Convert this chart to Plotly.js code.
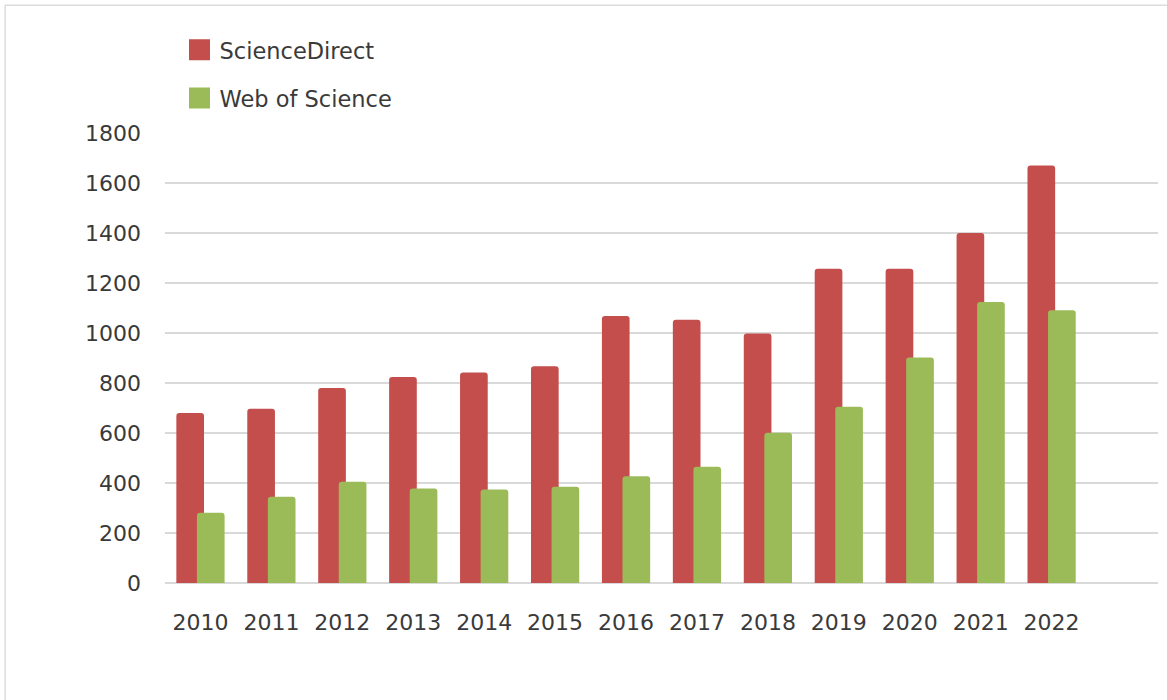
<!DOCTYPE html>
<html>
<head>
<meta charset="utf-8">
<script src="https://cdn.plot.ly/plotly-3.0.1.min.js"></script>
<style>html,body{margin:0;padding:0;background:#fff;}#chart{width:1167px;height:700px;}</style>
</head>
<body>
<div id="chart"></div>
<script>
const years = ['2010','2011','2012','2013','2014','2015','2016','2017','2018','2019','2020','2021','2022'];
const scienceDirect = [680, 697, 780, 824, 842, 867, 1068, 1053, 998, 1257, 1257, 1400, 1670];
const webOfScience = [281, 345, 405, 378, 374, 385, 427, 465, 601, 705, 902, 1124, 1091];
const yTicks = [0, 200, 400, 600, 800, 1000, 1200, 1400, 1600, 1800];
const seriesNames = ['ScienceDirect', 'Web of Science'];
const colors = ['#c44e4c', '#9bbb59'];

const traces = [
  {type:'bar', x: years, y: scienceDirect, name: seriesNames[0], showlegend:false,
   marker:{color: colors[0], cornerradius: 3}, width: 0.39, offset: -0.34, hoverinfo:'x+y+name'},
  {type:'bar', x: years, y: webOfScience, name: seriesNames[1], showlegend:false,
   marker:{color: colors[1], cornerradius: 3}, width: 0.39, offset: -0.05, hoverinfo:'x+y+name'},
  {type:'scatter', mode:'markers', x:[null], y:[null], name: seriesNames[0], legendgroup:'a',
   marker:{symbol:'square', size:16, color: colors[0], line:{color: colors[0], width:5}}},
  {type:'scatter', mode:'markers', x:[null], y:[null], name: seriesNames[1], legendgroup:'b',
   marker:{symbol:'square', size:16, color: colors[1], line:{color: colors[1], width:5}}}
];

const layout = {
  width: 1167, height: 700,
  margin: {l:165, r:9, t:133, b:117, autoexpand:false},
  paper_bgcolor:'#ffffff', plot_bgcolor:'#ffffff',
  font: {family:'"DejaVu Sans", sans-serif', size:22, color:'#3a3a3a'},
  barmode:'overlay',
  xaxis: {type:'category', categoryarray: years, range:[-0.5, 13.5], showgrid:false,
          showline:false, zeroline:false, ticks:'', ticklabelstandoff: 24,
          tickfont:{size:22, color:'#3a3a3a'}},
  yaxis: {range:[0, 1800], tickvals: yTicks, ticktext: yTicks.map(String),
          showgrid:true, gridcolor:'#d9d9d9', gridwidth:2, zeroline:true,
          zerolinecolor:'#d9d9d9', zerolinewidth:2, showline:false, ticks:'',
          ticklabelstandoff: 23, tickfont:{size:22, color:'#3a3a3a'}},
  showlegend: true,
  legend: {xref:'paper', yref:'paper', x: 0.0146, y: 1.232, xanchor:'left', yanchor:'top',
           orientation:'v', traceorder:'grouped', tracegroupgap: 16, itemwidth:30,
           font:{size:22.5, color:'#3a3a3a'}, bgcolor:'rgba(0,0,0,0)'},
  shapes: [
    {type:'line', xref:'paper', yref:'paper', x0:-0.161, x1:1.2, y0:1.284, y1:1.284,
     line:{color:'#dcdcdc', width:1.5}},
    {type:'line', xref:'paper', yref:'paper', x0:-0.161, x1:-0.161, y0:-0.5, y1:1.284,
     line:{color:'#dcdcdc', width:1.5}}
  ]
};

Plotly.newPlot('chart', traces, layout, {displayModeBar:false, staticPlot:true});
</script>
</body>
</html>
